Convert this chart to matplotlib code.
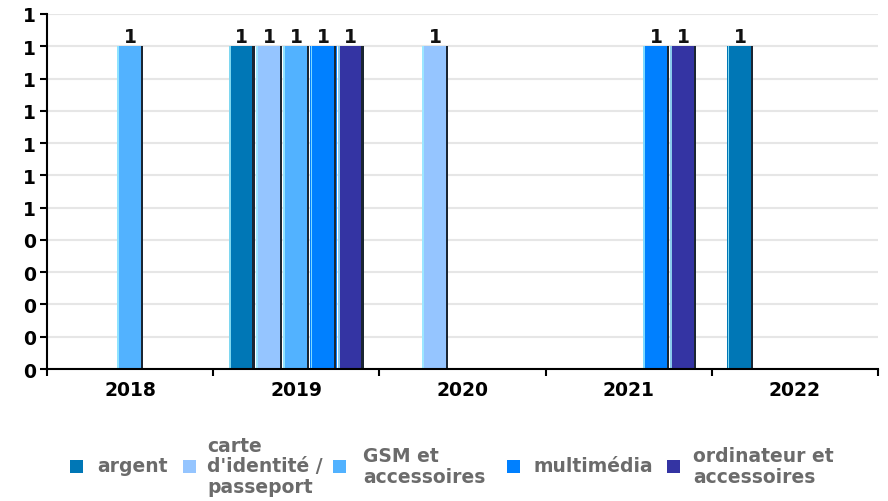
import matplotlib
matplotlib.use("Agg")
import matplotlib.pyplot as plt
from matplotlib.patches import Rectangle
import numpy as np

years = ['2018', '2019', '2020', '2021', '2022']
series_names = ['argent', "carte\nd'identité /\npasseport", 'GSM et\naccessoires',
                'multimédia', 'ordinateur et\naccessoires']
argent = [0, 1, 0, 0, 1]
carte = [0, 1, 1, 0, 0]
gsm = [1, 1, 0, 0, 0]
multimedia = [0, 1, 0, 1, 0]
ordinateur = [0, 1, 0, 1, 0]
series_values = [argent, carte, gsm, multimedia, ordinateur]
colors = ['#0077b6', '#95c5ff', '#52b2ff', '#0080ff', '#3434a3']
ytick_values = [0, 0.1, 0.2, 0.3, 0.4, 0.5, 0.6, 0.7, 0.8, 0.9, 1.0, 1.1]
ytick_labels = ['0', '0', '0', '0', '0', '1', '1', '1', '1', '1', '1', '1']

W, H = 888, 502
fig = plt.figure(figsize=(W / 100, H / 100), dpi=100)
ax = fig.add_axes([47 / W, (H - 370) / H, (878 - 47) / W, (370 - 15) / H])

FS = 13.5
x = np.arange(len(years))
n = len(series_values)
w = 0.164
for i, (vals, col) in enumerate(zip(series_values, colors)):
    xs = x + (i - (n - 1) / 2) * w
    v = np.array(vals, dtype=float)
    mask = v > 0
    ax.bar(xs[mask], v[mask], width=w * 0.96, color=col, linewidth=0, zorder=3)
    # dark right edge shadow
    ax.bar(xs[mask] + w * 0.43, v[mask], width=w * 0.08, color='#1b2633',
           linewidth=0, zorder=4)
    # light left highlight
    ax.bar(xs[mask] - w * 0.44, v[mask], width=w * 0.06, color='#9ff0ff',
           linewidth=0, zorder=4, alpha=0.8)
    for xx, vv in zip(xs[mask], v[mask]):
        ax.annotate('%d' % vv, (xx, vv), xytext=(0, 0), textcoords='offset points',
                    ha='center', va='bottom', fontsize=FS, fontweight='bold',
                    color='#111111', zorder=5)

ax.set_xlim(-0.5, len(years) - 0.5)
ax.set_ylim(0, 1.1)
ax.set_yticks(ytick_values)
ax.set_yticklabels(ytick_labels, fontsize=FS, fontweight='bold')
ax.set_xticks(x)
ax.set_xticklabels(years, fontsize=FS, fontweight='bold')
ax.set_xticks(np.arange(len(years) + 1) - 0.5, minor=True)
ax.tick_params(axis='x', which='major', length=0, pad=8)
ax.tick_params(axis='x', which='minor', length=5, width=1.5, color='black', direction='out')
ax.tick_params(axis='y', length=5, width=1.5, pad=3, color='black')
ax.grid(axis='y', color='#e6e6e6', linewidth=1.5, zorder=0)
ax.set_axisbelow(True)
for s in ['top', 'right']:
    ax.spines[s].set_visible(False)
for s in ['left', 'bottom']:
    ax.spines[s].set_linewidth(1.5)
    ax.spines[s].set_color('black')
    ax.spines[s].set_zorder(6)

# legend drawn manually so that markers are centered on multi-line labels
marker_x = [70, 183, 333, 507, 667]
text_x = [97, 207, 363, 533, 693]
ly = 467
ms = 13
for name, col, mx, tx in zip(series_names, colors, marker_x, text_x):
    fig.add_artist(Rectangle((mx / W, (H - ly - ms / 2) / H), ms / W, ms / H,
                             transform=fig.transFigure, color=col, linewidth=0))
    fig.text(tx / W, (H - ly) / H, name, ha='left', va='center', fontsize=FS,
             fontweight='bold', color='#6b6b6b', linespacing=1.1)

fig.savefig('out.png', dpi=100)
